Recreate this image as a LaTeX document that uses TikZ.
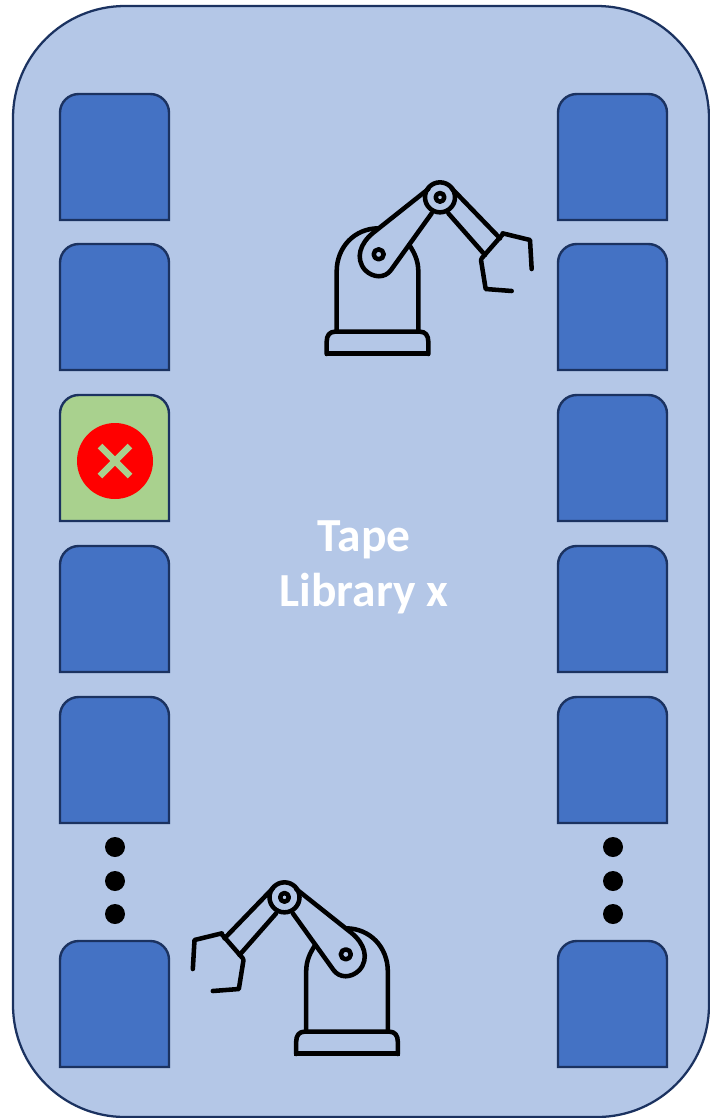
\documentclass[tikz,border=0pt]{standalone}
\usepackage{fontspec}
\setmainfont{Carlito}
\definecolor{panelfill}{HTML}{B4C7E7}
\definecolor{navy}{HTML}{1B3260}
\definecolor{slotblue}{HTML}{4472C4}
\definecolor{slotgreen}{HTML}{A9D18E}
\tikzset{
  panel/.style={fill=panelfill,draw=navy,line width=1.7pt},
  slotshape/.style={draw=navy,line width=1.8pt,line join=miter},
  stroke/.style={draw=black,line width=3.4pt,line cap=round,line join=round},
  dotmark/.style={fill=black},
  title/.style={text=white,font=\fontsize{35.6pt}{41.5pt}\selectfont\bfseries,align=center}
}
\newcommand{\slotpath}[3]{\path[slotshape,fill=#3] (#1,#2+126) [rounded corners=14pt] -- (#1,#2) -- (#1+109,#2) [sharp corners] -- (#1+109,#2+126) -- cycle;}
\newcommand{\robotpath}{
  \draw[stroke,line width=4.2pt,line cap=butt,line join=miter] (44,566) -- (361,566);
  \draw[stroke] (50,567) -- (50,530) .. controls (50,510) and (60,500) .. (75,500) -- (330,500) .. controls (345,500) and (355,510) .. (355,530) -- (355,567);
  \draw[stroke] (80,500) -- (80,320) .. controls (80,245) and (135,190) .. (205,190);
  \draw[stroke] (325,500) -- (325,320) .. controls (325,285) and (312,262) .. (298,240);
  \draw[stroke] (355,72) -- (190,203) .. controls (150,235) and (135,280) .. (165,315) .. controls (190,340) and (225,340) .. (243,315) -- (365,145);
  \draw[stroke] (390,97) circle[radius=45];
  \draw[stroke] (390,97) circle[radius=13];
  \draw[stroke] (206,268) circle[radius=15];
  \draw[stroke] (425,70) -- (570,220);
  \draw[stroke] (415,145) -- (525,270);
  \draw[stroke] (578,208) -- (515,280);
  \draw[stroke] (578,205) -- (660,225) -- (665,312);
  \draw[stroke] (513,285) -- (527,372) -- (605,378);
}
\begin{document}
\begin{tikzpicture}[x=0.75pt,y=-0.75pt]
\useasboundingbox (0,0) rectangle (710,1118);
\path[panel,rounded corners=84pt] (13,6) rectangle (709,1117);
\foreach \y in {94,244,546,697,941} {\slotpath{60}{\y}{slotblue}}
\slotpath{60}{395}{slotgreen}
\foreach \y in {94,244,395,546,697,941} {\slotpath{558}{\y}{slotblue}}
\fill[red] (115,461) circle[radius=38];
\draw[slotgreen,line width=4.8pt] (100,446) -- (130,476);
\draw[slotgreen,line width=4.8pt] (130,446) -- (100,476);
\foreach \x in {115,613} \foreach \y in {847,881,914} {\fill[dotmark] (\x,\y) circle[radius=10];}
\node[title] (label) at (364,567) {Tape\\Library x};
\begin{scope}[shift={(310,165)},x=0.25pt,y=-0.25pt]
\robotpath
\end{scope}
\begin{scope}[shift={(414.5,865)},x=-0.25pt,y=-0.25pt]
\robotpath
\end{scope}
\end{tikzpicture}
\end{document}
